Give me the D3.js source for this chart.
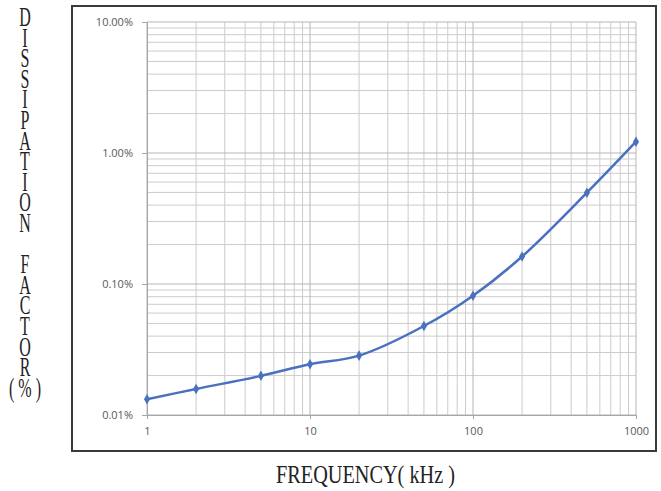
<!DOCTYPE html>
<html>
<head>
<meta charset="utf-8">
<script src="https://cdn.jsdelivr.net/npm/d3@7"></script>
<style>
  body { margin: 0; background: #fff; }
  svg { display: block; }
  .tick text { font-family: "Open Sans", "Liberation Sans", sans-serif; font-size: 11px; fill: #595959; }
</style>
</head>
<body>
<svg id="chart"></svg>
<script>
// frequency (kHz) and dissipation factor (%)
const freq = [1, 2, 5, 10, 20, 50, 100, 200, 500, 1000];
const dissipation = [0.0132, 0.0158, 0.0199, 0.0244, 0.0284, 0.0478, 0.0814, 0.162, 0.498, 1.22];

const xTicks = [1, 10, 100, 1000];
const yTicks = [0.01, 0.1, 1, 10];
const yTickLabels = ['0.01%', '0.10%', '1.00%', '10.00%'];

// vertical title, one character per row (empty row = word gap)
const yTitle = ['D', 'I', 'S', 'S', 'I', 'P', 'A', 'T', 'I', 'O', 'N', '', 'F', 'A', 'C', 'T', 'O', 'R', '( % )'];
const xTitle = 'FREQUENCY( kHz )';

const W = 661, H = 491;
const plot = { left: 147, right: 636, top: 22, bottom: 415 };

const svg = d3.select('#chart').attr('width', W).attr('height', H);

// outer frame
svg.append('rect')
  .attr('x', 72).attr('y', 6)
  .attr('width', 584).attr('height', 445)
  .attr('fill', 'none')
  .attr('stroke', '#3a3a3a')
  .attr('stroke-width', 2);

const x = d3.scaleLog().domain([1, 1000]).range([plot.left, plot.right]);
const y = d3.scaleLog().domain([0.01, 10]).range([plot.bottom, plot.top]);

// minor + major grid
const minorX = [], minorY = [];
for (let d = 1; d < 1000; d *= 10) for (let k = 2; k <= 9; k++) minorX.push(d * k);
for (let d = 0.01; d < 9; d *= 10) for (let k = 2; k <= 9; k++) minorY.push(d * k);

const grid = svg.append('g');
grid.selectAll('.gx').data(minorX).enter().append('line')
  .attr('x1', d => x(d)).attr('x2', d => x(d))
  .attr('y1', plot.top).attr('y2', plot.bottom)
  .attr('stroke', '#cccccc').attr('stroke-width', 1);
grid.selectAll('.gy').data(minorY).enter().append('line')
  .attr('y1', d => y(d)).attr('y2', d => y(d))
  .attr('x1', plot.left).attr('x2', plot.right)
  .attr('stroke', '#cccccc').attr('stroke-width', 1);
grid.selectAll('.mx').data(xTicks).enter().append('line')
  .attr('x1', d => x(d)).attr('x2', d => x(d))
  .attr('y1', plot.top).attr('y2', plot.bottom)
  .attr('stroke', '#b5b5b5').attr('stroke-width', 1);
grid.selectAll('.my').data(yTicks).enter().append('line')
  .attr('y1', d => y(d)).attr('y2', d => y(d))
  .attr('x1', plot.left).attr('x2', plot.right)
  .attr('stroke', '#b5b5b5').attr('stroke-width', 1);

// axes
const xAxis = svg.append('g')
  .attr('transform', `translate(0,${plot.bottom})`)
  .call(d3.axisBottom(x).tickValues(xTicks).tickFormat(d3.format('d')).tickSize(4).tickPadding(8));
const yAxis = svg.append('g')
  .attr('transform', `translate(${plot.left},0)`)
  .call(d3.axisLeft(y).tickValues(yTicks).tickFormat((d, i) => yTickLabels[i]).tickSize(5).tickPadding(9));
[xAxis, yAxis].forEach(a => {
  a.select('.domain').attr('stroke', '#a6a6a6');
  a.selectAll('.tick line').attr('stroke', '#a6a6a6');
});

// smoothed series line
const pts = freq.map((f, i) => [x(f), y(dissipation[i])]);
svg.append('path')
  .datum(pts)
  .attr('d', d3.line().curve(d3.curveCatmullRom.alpha(0.5)))
  .attr('fill', 'none')
  .attr('stroke', '#4a70c0')
  .attr('stroke-width', 2.5);

svg.selectAll('.marker').data(pts).enter().append('path')
  .attr('transform', d => `translate(${d[0]},${d[1]})`)
  .attr('d', d3.symbol().type(d3.symbolDiamond).size(32))
  .attr('fill', '#4a70c0');

// axis titles
const serif = '"Liberation Serif", "DejaVu Serif", serif';
const sx = 0.8, sy = 1.35;
svg.append('g').selectAll('text')
  .data(yTitle.map((c, i) => ({ c, i })).filter(d => d.c !== ''))
  .enter().append('text')
  .attr('transform', d => `translate(25,${26 + d.i * 20.6}) scale(${sx},${sy})`)
  .attr('text-anchor', 'middle')
  .attr('font-family', serif)
  .attr('font-size', 20)
  .attr('fill', '#222')
  .text(d => d.c);

svg.append('text')
  .attr('x', 276).attr('y', 483)
  .attr('textLength', 179)
  .attr('lengthAdjust', 'spacingAndGlyphs')
  .attr('font-family', serif)
  .attr('font-size', 25)
  .attr('fill', '#222')
  .text(xTitle);
</script>
</body>
</html>
